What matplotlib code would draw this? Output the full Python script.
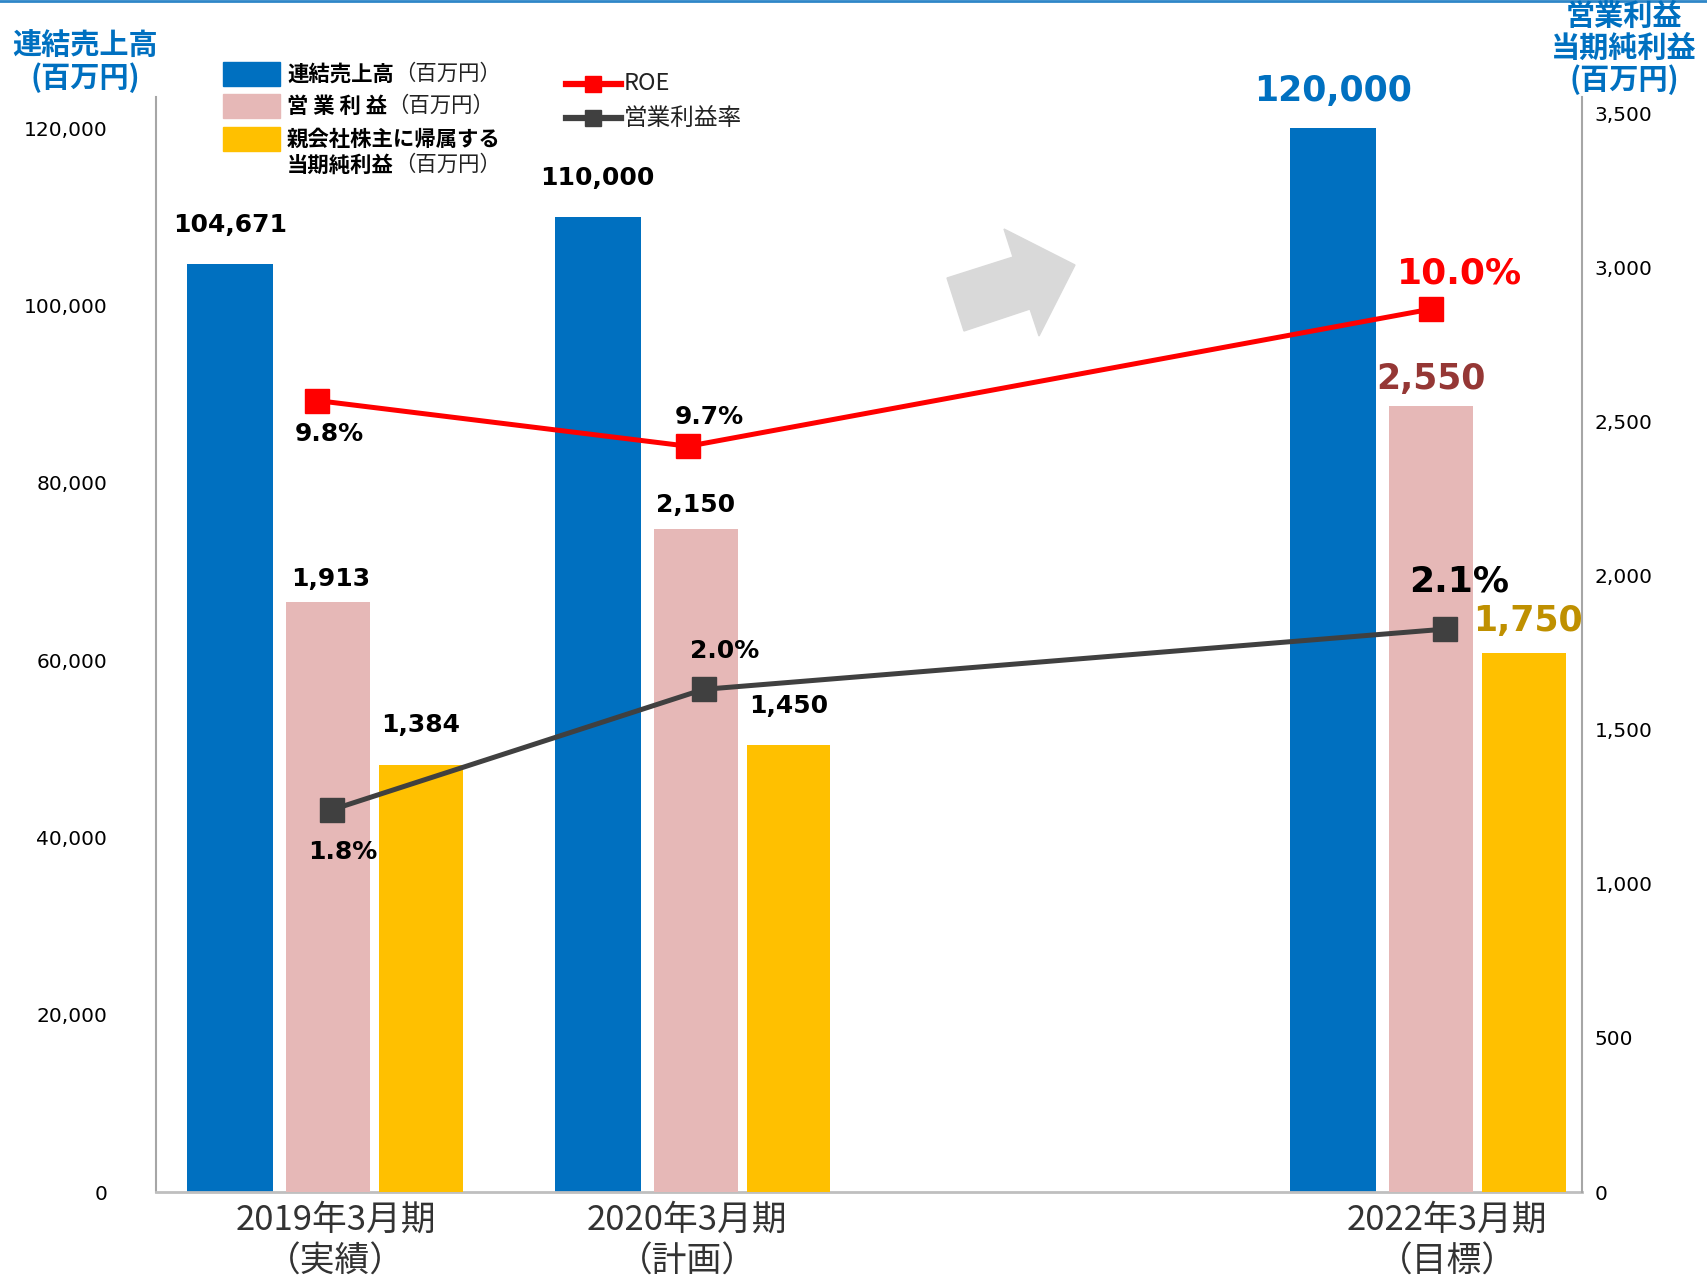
import matplotlib.pyplot as plt
from matplotlib.lines import Line2D
from matplotlib.patches import Polygon, Rectangle

# データ
periods = ['2019年3月期', '2020年3月期', '2022年3月期']
period_notes = ['（実績）', '（計画）', '（目標）']
period_pos = [0, 1, 3]
sales = [104671, 110000, 120000]          # 連結売上高
op_income = [1913, 2150, 2550]            # 営業利益
net_income = [1384, 1450, 1750]           # 当期純利益
roe = [9.8, 9.7, 10.0]                    # ROE (%)
op_margin = [1.8, 2.0, 2.1]               # 営業利益率 (%)

left_ticks = [0, 20000, 40000, 60000, 80000, 100000, 120000]
right_ticks = [0, 500, 1000, 1500, 2000, 2500, 3000, 3500]

BLUE = '#0070C0'
PINK = '#E6B8B7'
GOLD = '#FFC000'
RED = '#FF0000'
DARK = '#404040'
JP = ['Noto Sans CJK JP', 'DejaVu Sans']

plt.rcParams['font.family'] = ['DejaVu Sans', 'Noto Sans CJK JP']

W, H = 1707, 1278
def fx(x):
    return x / W
def fy(y):
    return 1 - y / H

fig = plt.figure(figsize=(W / 100, H / 100), dpi=100)
ax = fig.add_axes([0.0912, 0.0672, 0.8355, 0.8570])
ax2 = ax.twinx()
ax3 = ax.twinx()
ax4 = ax.twinx()

# 棒グラフ
x = period_pos
x_sales = [p - 0.267 for p in x]
x_net = [p + 0.252 for p in x]
ax.bar(x_sales, sales, width=0.234, color=BLUE, zorder=2)
ax2.bar(x, op_income, width=0.228, color=PINK, zorder=2)
ax2.bar(x_net, net_income, width=0.228, color=GOLD, zorder=2)

# 折れ線 (非表示の軸)
roe_shift = [-0.031, -0.021, 0.0]
opm_shift = [0.010, 0.021, 0.037]
x_roe = [p + d for p, d in zip(x, roe_shift)]
x_opm = [p + d for p, d in zip(x, opm_shift)]
ax3.plot(x_roe, roe, color=RED, lw=3.6, marker='s', ms=17, zorder=3)
ax4.plot(x_opm, op_margin, color=DARK, lw=3.6, marker='s', ms=17, zorder=3)

ax.set_xlim(-0.4695, 3.41)
ax.set_ylim(0, 123560)
ax2.set_ylim(0, 3553)
ax3.set_ylim(8.069, 10.464)
ax4.set_ylim(1.165, 2.984)
ax3.axis('off')
ax4.axis('off')

ax.set_yticks(left_ticks)
ax.set_yticklabels([f'{v:,}' for v in left_ticks])
ax2.set_yticks(right_ticks)
ax2.set_yticklabels([f'{v:,}' for v in right_ticks])
ax.tick_params(axis='y', length=0, pad=35, labelsize=14.5)
ax2.tick_params(axis='y', length=0, pad=9, labelsize=14.5)
ax.set_xticks(period_pos)
ax.set_xticklabels([])
ax.tick_params(axis='x', length=0)

for s in ['top', 'right']:
    ax.spines[s].set_visible(False)
ax.spines['left'].set_color('#A6A6A6')
ax.spines['left'].set_linewidth(1.5)
ax.spines['bottom'].set_color('#BFBFBF')
ax.spines['bottom'].set_linewidth(2)
for s in ['top', 'left', 'bottom']:
    ax2.spines[s].set_visible(False)
ax2.spines['right'].set_color('#A6A6A6')
ax2.spines['right'].set_linewidth(1.5)

# x軸ラベル
label_shift = [0.02, -0.024, 0.043]
xt = ax.get_xaxis_transform()
for p, d, name, note in zip(period_pos, label_shift, periods, period_notes):
    ax.text(p + d, -0.026, name, transform=xt, ha='center', va='center',
            fontsize=25, color='#333333', family=JP)
    ax.text(p + d, -0.064, note, transform=xt, ha='center', va='center',
            fontsize=25, color='#333333', family=JP)

# データラベル
def label(axis, xs, ys, fmt, offsets, colors, sizes):
    for xv, yv, (dx, dy), c, s in zip(xs, ys, offsets, colors, sizes):
        axis.annotate(fmt(yv), (xv, yv), xytext=(dx, dy), textcoords='offset pixels',
                      ha='center', va='center', fontsize=s, fontweight='bold',
                      color=c, zorder=5)

label(ax, x_sales, sales, lambda v: f'{v:,}',
      [(0, 39), (0, 39), (0, 37)], ['black', 'black', BLUE], [18, 18, 25])
label(ax2, x, op_income, lambda v: f'{v:,}',
      [(2, 23), (0, 24), (0, 27)], ['black', 'black', '#953735'], [18, 18, 25])
label(ax2, x_net, net_income, lambda v: f'{v:,}',
      [(0, 40), (0, 39), (4, 32)], ['black', 'black', '#BF9000'], [18, 18, 25])
label(ax3, x_roe, roe, lambda v: f'{v:.1f}%',
      [(12, -33), (21, 29), (28, 36)], ['black', 'black', RED], [18, 18, 26])
label(ax4, x_opm, op_margin, lambda v: f'{v:.1f}%',
      [(11, -42), (21, 38), (14, 48)], ['black', 'black', 'black'], [18, 18, 26])

# 軸タイトル
fig.text(fx(85), fy(46), '連結売上高', ha='center', va='center', fontsize=21,
         fontweight='bold', color=BLUE, family=JP)
fig.text(fx(85), fy(78), '(百万円)', ha='center', va='center', fontsize=21,
         fontweight='bold', color=BLUE, family=JP)
for yy, t in zip([16, 48, 80], ['営業利益', '当期純利益', '(百万円)']):
    fig.text(fx(1624), fy(yy), t, ha='center', va='center', fontsize=21,
             fontweight='bold', color=BLUE, family=JP)

# 凡例 (棒)
def legend_text(yy, bold, reg):
    t = fig.text(fx(287), fy(yy), bold, ha='left', va='center', fontsize=15.4,
                 fontweight='bold', family=JP)
    if reg:
        fig.add_artist(plt.Annotation(reg, xy=(1, 0.5), xycoords=t, ha='left',
                                      va='center', fontsize=15.4, family=JP,
                                      color='#222222'))

legend_rows = [(BLUE, 74), (PINK, 106), (GOLD, 139)]
for c, yy in legend_rows:
    fig.add_artist(Rectangle((fx(223), fy(yy + 12)), fx(57), 24 / H,
                             transform=fig.transFigure, color=c))
legend_text(74, '連結売上高', '（百万円）')
legend_text(106, '営 業 利 益', '（百万円）')
legend_text(139, '親会社株主に帰属する', '')
legend_text(165, '当期純利益', '（百万円）')

# 凡例 (線)
for c, yy, name in [(RED, 84, 'ROE'), (DARK, 118, '営業利益率')]:
    fig.add_artist(Line2D([fx(566), fx(621)], [fy(yy), fy(yy)], color=c, lw=4.5,
                          transform=fig.transFigure))
    fig.add_artist(Line2D([fx(593)], [fy(yy)], color=c, marker='s', ms=11,
                          transform=fig.transFigure))
    fig.text(fx(624), fy(yy), name, ha='left', va='center', fontsize=17,
             family=JP, color='#222222')

# 矢印
arrow_px = [(947, 278), (1013, 257), (1004, 229), (1075, 265),
            (1039, 336), (1030, 309), (964, 331)]
fig.add_artist(Polygon([(fx(a), fy(b)) for a, b in arrow_px], closed=True,
                       transform=fig.transFigure, color='#D9D9D9', zorder=1))

# 上端の線
fig.add_artist(Line2D([0, 1], [0.9992, 0.9992], color='#2E86C8', lw=2,
                      transform=fig.transFigure))

fig.savefig('out.png', dpi=100)
